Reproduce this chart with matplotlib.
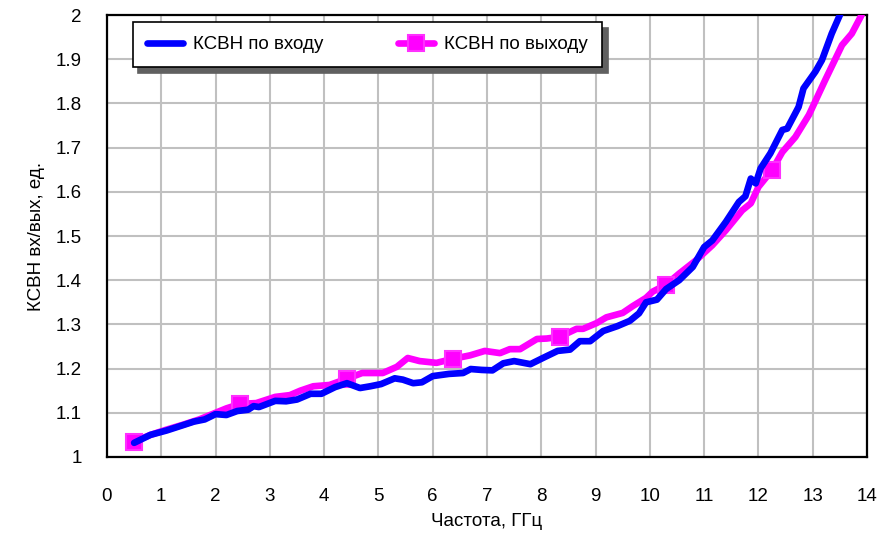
import numpy as np
import matplotlib
matplotlib.use("Agg")
import matplotlib.pyplot as plt

plt.rcParams['font.family'] = ['Liberation Sans Narrow', 'Liberation Sans', 'DejaVu Sans']

# КСВН по входу
f_in = [0.5, 0.8, 1.1, 1.35, 1.6, 1.8, 2.0, 2.2, 2.4, 2.6, 2.7, 2.8, 3.1, 3.3, 3.5,
        3.75, 3.95, 4.2, 4.42, 4.66, 4.85, 5.05, 5.3, 5.45, 5.64, 5.8, 6.0, 6.3, 6.56,
        6.7, 6.9, 7.1, 7.3, 7.5, 7.8, 8.03, 8.3, 8.53, 8.71, 8.9, 9.14, 9.4, 9.63, 9.8,
        9.93, 10.13, 10.3, 10.54, 10.79, 11.0, 11.15, 11.4, 11.64, 11.76, 11.86, 11.95,
        12.04, 12.22, 12.44, 12.53, 12.74, 12.83, 13.05, 13.17, 13.35, 13.5, 13.6]
vswr_in = [1.032, 1.05, 1.06, 1.07, 1.08, 1.085, 1.097, 1.095, 1.104, 1.107, 1.115, 1.113,
           1.127, 1.126, 1.13, 1.143, 1.143, 1.158, 1.167, 1.156, 1.16, 1.165, 1.178, 1.175,
           1.167, 1.169, 1.183, 1.188, 1.19, 1.199, 1.197, 1.196, 1.212, 1.217, 1.21, 1.224,
           1.24, 1.243, 1.262, 1.262, 1.285, 1.296, 1.308, 1.325, 1.35, 1.356, 1.38, 1.4,
           1.43, 1.475, 1.49, 1.532, 1.577, 1.59, 1.63, 1.619, 1.653, 1.687, 1.74, 1.743,
           1.792, 1.834, 1.872, 1.898, 1.958, 2.0, 2.03]

# КСВН по выходу
f_out = [0.5, 0.8, 1.1, 1.4, 1.7, 2.0, 2.2, 2.45, 2.75, 3.1, 3.37, 3.56, 3.8, 4.1, 4.42,
         4.7, 5.08, 5.34, 5.54, 5.76, 6.07, 6.37, 6.69, 6.96, 7.24, 7.42, 7.61, 7.92, 8.1,
         8.34, 8.65, 8.77, 9.02, 9.2, 9.5, 9.68, 9.93, 10.05, 10.3, 10.54, 10.85, 11.15,
         11.4, 11.7, 11.86, 12.0, 12.25, 12.44, 12.68, 12.93, 13.23, 13.54, 13.72, 13.9]
vswr_out = [1.035, 1.05, 1.062, 1.073, 1.085, 1.1, 1.11, 1.12, 1.122, 1.136, 1.14, 1.15,
            1.16, 1.163, 1.177, 1.19, 1.19, 1.204, 1.224, 1.217, 1.213, 1.222, 1.23, 1.24,
            1.235, 1.244, 1.244, 1.267, 1.268, 1.272, 1.29, 1.29, 1.303, 1.316, 1.326, 1.341,
            1.36, 1.374, 1.39, 1.415, 1.445, 1.479, 1.513, 1.558, 1.574, 1.611, 1.649, 1.69,
            1.724, 1.774, 1.853, 1.932, 1.958, 2.0]
f_marks = [0.5, 2.45, 4.42, 6.37, 8.34, 10.3, 12.25]

fig = plt.figure(figsize=(8.82, 5.37), dpi=100)
ax = fig.add_axes([0.1213, 0.149, 0.8617, 0.823])

mark_idx = [f_out.index(m) for m in f_marks]
ax.plot(f_out, vswr_out, color='#ff00ff', lw=4.8, marker='s', markevery=mark_idx,
        ms=11, mfc='#ff00ff', mec='#ff30ff', mew=1.5, label='КСВН по выходу',
        solid_joinstyle='round', solid_capstyle='round', zorder=3)
ax.plot(f_in, vswr_in, color='#0000ff', lw=4.8, label='КСВН по входу',
        solid_joinstyle='round', solid_capstyle='round', zorder=4)

ax.set_xlim(0, 14)
ax.set_ylim(1, 2)
ax.set_xticks(np.arange(0, 15, 1))
ax.set_yticks(np.arange(1, 2.01, 0.1))
ax.set_yticklabels(['1', '1.1', '1.2', '1.3', '1.4', '1.5', '1.6', '1.7', '1.8', '1.9', '2'])
ax.tick_params(axis='both', length=0, labelsize=13.5)
ax.tick_params(axis='x', pad=22)
ax.tick_params(axis='y', pad=18)
ax.grid(True, color='#c0c0c0', lw=1.5)
ax.set_axisbelow(True)
for s in ax.spines.values():
    s.set_linewidth(1.6)
    s.set_color('black')

ax.set_xlabel('Частота, ГГц', fontsize=13.5, labelpad=6)
ax.set_ylabel('КСВН вх/вых, ед.', fontsize=13.5, labelpad=8)

h, l = ax.get_legend_handles_labels()
leg = ax.legend(h[::-1], l[::-1], ncol=2, loc='upper left',
                bbox_to_anchor=(0.034, 0.984), borderaxespad=0,
                fontsize=13.5, frameon=True, fancybox=False,
                shadow={'color': '#606060', 'alpha': 1, 'ox': 4, 'oy': -4},
                edgecolor='black', framealpha=1, handlelength=1.9, handletextpad=0.55,
                borderpad=0.75, columnspacing=4.0)
leg.get_frame().set_linewidth(1.2)

fig.savefig('out.png', dpi=100)
